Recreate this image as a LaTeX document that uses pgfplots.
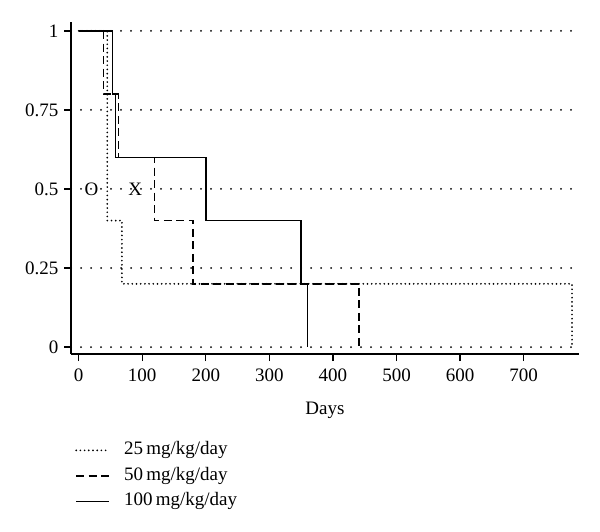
\documentclass[border=0pt]{standalone}
\usepackage{pgfplots}
\pgfplotsset{compat=1.18}
\usepackage{fontspec}
\setmainfont{Liberation Serif}
\begin{document}
\begin{tikzpicture}
\begin{axis}[
    scale only axis,
    width=508pt, height=332pt,
    xmin=-12, xmax=787,
    ymin=-0.022, ymax=1.028,
    axis lines*=left,
    axis line style={line width=1.3pt},
    xtick={0,100,...,700},
    ytick={0,0.25,0.5,0.75,1},
    yticklabels={0,0.25,0.5,0.75,1},
    tick align=outside,
    major tick length=7pt,
    tick style={line width=1.3pt, black},
    ymajorgrids,
    grid style={black, line width=2pt, dash pattern=on 0pt off 10pt, line cap=round},
    font=\fontsize{19}{23}\selectfont,
    /pgf/number format/assume math mode=true,
    xticklabel style={yshift=-4pt},
    yticklabel style={xshift=-2pt},
    xlabel={Days},
    xlabel style={yshift=-14pt},
    clip=false,
    legend style={at={(axis description cs:0.002,-0.258)}, anchor=north west,
        draw=none, fill=none, row sep=8.5pt, column sep=14pt,
        nodes={inner sep=0pt, text height=13pt, text depth=4pt, anchor=west},
        font=\fontsize{19}{23}\selectfont},
    legend cell align=left,
    legend image code/.code={\draw[#1] (0pt,0pt) -- (33pt,0pt);},
]
% 25 mg/kg/day
\addplot[const plot mark left, line width=1.9pt, dash pattern=on 0pt off 4.2pt, line cap=round]
coordinates {(0,1) (45,0.4) (68,0.2) (776,0)};
\addlegendentry{25\,mg/kg/day}
% 50 mg/kg/day
\addplot[const plot mark left, line width=1.4pt, dash pattern=on 8pt off 4.5pt]
coordinates {(0,1) (39,0.8) (63,0.6) (119,0.4) (180,0.2) (441,0)};
\addlegendentry{50\,mg/kg/day}
% 100 mg/kg/day
\addplot[const plot mark left, line width=1.4pt]
coordinates {(0,1) (53,0.8) (58,0.6) (200,0.4) (350,0.2) (360,0)};
\addlegendentry{100\,mg/kg/day}

\node at (axis cs:20,0.5) {O};
\node at (axis cs:89,0.5) {X};
\path (axis description cs:-0.1398,-0.5331) rectangle (axis description cs:1.0413,1.0663);
\end{axis}
\end{tikzpicture}
\end{document}
